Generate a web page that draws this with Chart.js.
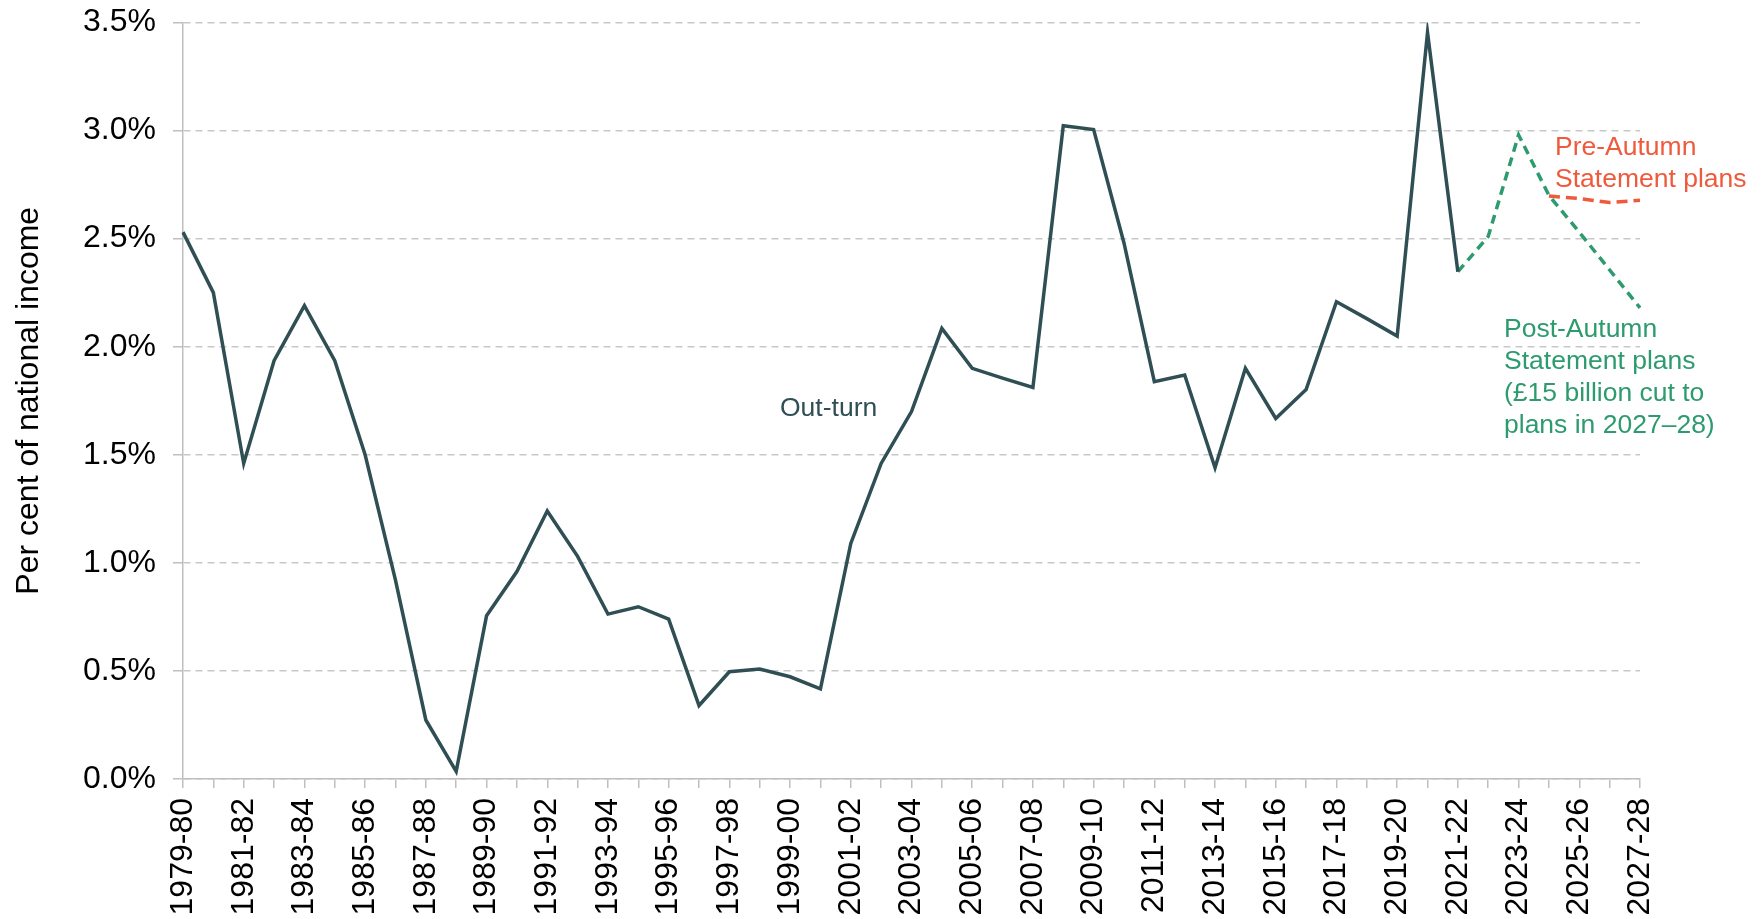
<!DOCTYPE html>
<html>
<head>
<meta charset="utf-8">
<title>Per cent of national income</title>
<script src="https://cdn.jsdelivr.net/npm/chart.js@4.4.0/dist/chart.umd.min.js"></script>
<style>
    html, body { margin: 0; padding: 0; background: #ffffff; }
    #chart-wrap { position: relative; width: 1762px; height: 919px; }
</style>
</head>
<body>
<div id="chart-wrap"><canvas id="spend-chart"></canvas></div>
<script>
// Financial years on the x axis
const categories = [
    '1979-80', '1980-81', '1981-82', '1982-83', '1983-84', '1984-85', '1985-86',
    '1986-87', '1987-88', '1988-89', '1989-90', '1990-91', '1991-92', '1992-93',
    '1993-94', '1994-95', '1995-96', '1996-97', '1997-98', '1998-99', '1999-00',
    '2000-01', '2001-02', '2002-03', '2003-04', '2004-05', '2005-06', '2006-07',
    '2007-08', '2008-09', '2009-10', '2010-11', '2011-12', '2012-13', '2013-14',
    '2014-15', '2015-16', '2016-17', '2017-18', '2018-19', '2019-20', '2020-21',
    '2021-22', '2022-23', '2023-24', '2024-25', '2025-26', '2026-27', '2027-28'
];

// Out-turn, 1979-80 to 2021-22 (% of national income)
const outturnValues = [
    2.53, 2.25, 1.46, 1.935, 2.19, 1.935, 1.50, 0.92, 0.273, 0.035,
    0.755, 0.96, 1.24, 1.03, 0.763, 0.797, 0.74, 0.34, 0.496, 0.509,
    0.473, 0.417, 1.09, 1.46, 1.70, 2.085, 1.90, 1.855, 1.812, 3.022,
    3.005, 2.48, 1.838, 1.869, 1.44, 1.90, 1.668, 1.802, 2.208, 2.13,
    2.049, 3.454, 2.347
];

// Post-Autumn Statement plans, 2021-22 to 2027-28
const postStart = 42;
const postValues = [2.347, 2.51, 2.98, 2.70, 2.53, 2.355, 2.18];

// Pre-Autumn Statement plans, 2024-25 to 2027-28
const preStart = 45;
const preValues = [2.697, 2.686, 2.667, 2.678];

// Y axis ticks
const yTicks = [0, 0.5, 1.0, 1.5, 2.0, 2.5, 3.0, 3.5];

const FONT_FAMILY = '"Liberation Sans", Arial, sans-serif';
const OUTTURN_COLOR = '#2f4f55';
const POST_COLOR = '#2e9b6e';
const PRE_COLOR = '#ef5a3c';

// Place a short series on the full category axis (gaps are null)
function alignSeries(values, start) {
    return categories.map((c, i) => {
        const j = i - start;
        return j >= 0 && j < values.length ? values[j] : null;
    });
}

// Text labels drawn next to the lines, plus the rotated y-axis title
const labelPlugin = {
    id: 'lineLabels',
    afterDraw(chart) {
        const ctx = chart.ctx;
        const area = chart.chartArea;
        const notes = [
            { text: ['Out-turn'], color: OUTTURN_COLOR, x: 780, y: 416 },
            { text: ['Pre-Autumn', 'Statement plans'], color: PRE_COLOR, x: 1555, y: 155 },
            { text: ['Post-Autumn', 'Statement plans', '(£15 billion cut to', 'plans in 2027\u201328)'], color: POST_COLOR, x: 1504, y: 337 }
        ];
        ctx.save();
        ctx.font = '26.5px ' + FONT_FAMILY;
        ctx.textAlign = 'left';
        ctx.textBaseline = 'alphabetic';
        notes.forEach(note => {
            ctx.fillStyle = note.color;
            note.text.forEach((line, i) => ctx.fillText(line, note.x, note.y + i * 32));
        });

        // y axis title, centred on the plot area
        ctx.translate(38, (area.top + area.bottom) / 2);
        ctx.rotate(-Math.PI / 2);
        ctx.font = '32px ' + FONT_FAMILY;
        ctx.fillStyle = '#000000';
        ctx.textAlign = 'center';
        ctx.fillText('Per cent of national income', 0, 0);
        ctx.restore();
    }
};

const chart = new Chart(document.getElementById('spend-chart'), {
    type: 'line',
    data: {
        labels: categories,
        datasets: [
            {
                label: 'Out-turn',
                data: alignSeries(outturnValues, 0),
                borderColor: OUTTURN_COLOR,
                borderWidth: 3.5,
                pointRadius: 0,
                tension: 0
            },
            {
                label: 'Post-Autumn Statement plans',
                data: alignSeries(postValues, postStart),
                borderColor: POST_COLOR,
                borderWidth: 3.5,
                borderDash: [9, 6],
                pointRadius: 0,
                tension: 0
            },
            {
                label: 'Pre-Autumn Statement plans',
                data: alignSeries(preValues, preStart),
                borderColor: PRE_COLOR,
                borderWidth: 3.5,
                borderDash: [11, 6],
                pointRadius: 0,
                tension: 0
            }
        ]
    },
    options: {
        responsive: true,
        maintainAspectRatio: false,
        animation: false,
        layout: {
            padding: { top: 22.5, right: 122, bottom: 0, left: 0 }
        },
        plugins: {
            legend: { display: false },
            tooltip: { enabled: false }
        },
        scales: {
            x: {
                grid: {
                    drawOnChartArea: false,
                    color: '#bfbfbf',
                    lineWidth: 1.5,
                    tickLength: 9
                },
                border: { color: '#bfbfbf', width: 1.5 },
                ticks: {
                    autoSkip: false,
                    maxRotation: 90,
                    minRotation: 90,
                    padding: 10,
                    color: '#000000',
                    font: { family: FONT_FAMILY, size: 32 },
                    // label every other year, keep every tick mark
                    callback: function(value, index) {
                        return index % 2 === 0 ? this.getLabelForValue(value) : '';
                    }
                },
                afterFit: function(scale) {
                    scale.height = 140;
                    scale.paddingLeft = 0;
                    scale.paddingRight = 0;
                }
            },
            y: {
                min: yTicks[0],
                max: yTicks[yTicks.length - 1],
                afterBuildTicks: function(scale) {
                    scale.ticks = yTicks.map(v => ({ value: v }));
                },
                grid: {
                    color: '#c8c8c8',
                    lineWidth: 1.5,
                    tickLength: 10,
                    tickColor: '#bfbfbf'
                },
                border: { color: '#bfbfbf', width: 1.5, dash: [7, 5] },
                ticks: {
                    padding: 17,
                    color: '#000000',
                    font: { family: FONT_FAMILY, size: 32 },
                    callback: function(value) {
                        return value.toFixed(1) + '%';
                    }
                },
                afterFit: function(scale) {
                    scale.width = 183;
                    scale.paddingTop = 0;
                    scale.paddingBottom = 0;
                }
            }
        }
    },
    plugins: [labelPlugin]
});
</script>
</body>
</html>
